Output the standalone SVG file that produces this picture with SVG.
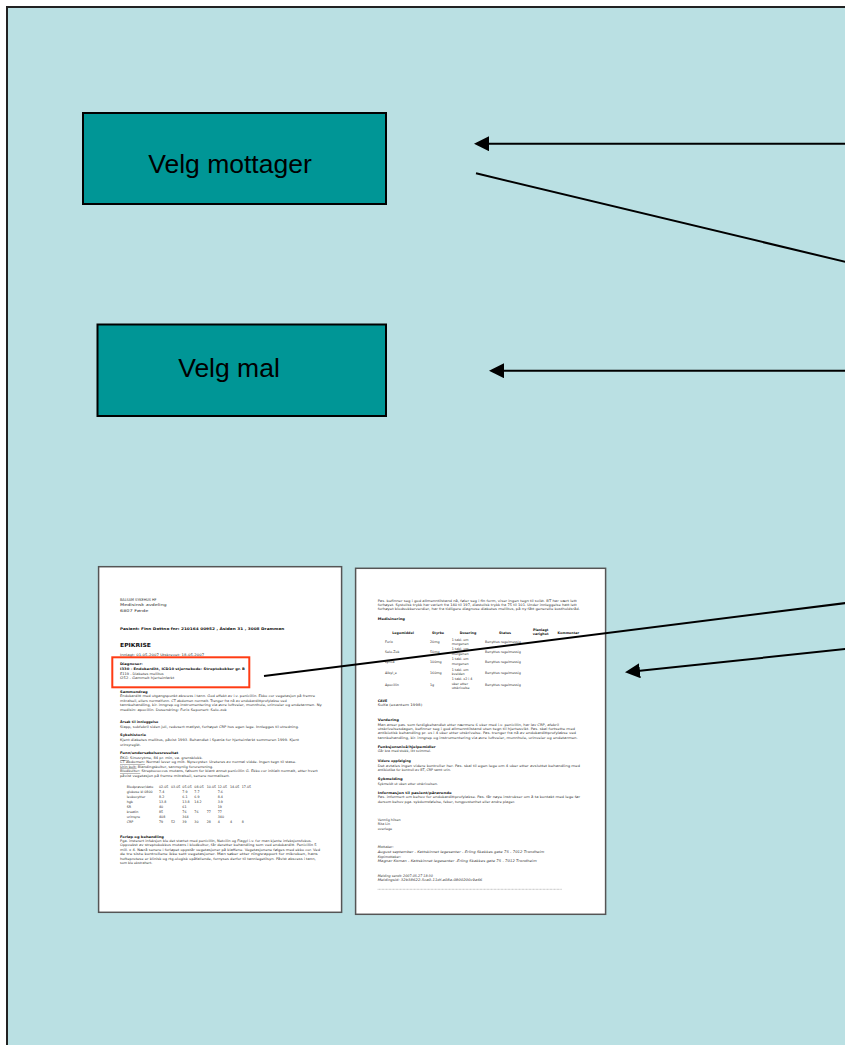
<svg xmlns="http://www.w3.org/2000/svg" width="845" height="1045" viewBox="0 0 845 1045">
<style>
.bg{fill:#BAE0E3;stroke:#222;stroke-width:2}
.box{fill:#009696;stroke:#000;stroke-width:2}
.lbl{font-family:"Liberation Sans",Arial,sans-serif;font-size:26.5px;fill:#000}
.doc{fill:#fff;stroke:#555;stroke-width:1.5}
.t{font-family:"DejaVu Sans",Verdana,sans-serif;font-size:3.3px;fill:#333}
.b{font-weight:bold;fill:#111}
.i{font-style:italic}
.u{text-decoration:underline}
.con{stroke:#000;stroke-width:2;fill:none}
.hl{fill:none;stroke:#FF3C14;stroke-width:2}
</style>
<defs>
<marker id="ah" markerUnits="userSpaceOnUse" markerWidth="16" markerHeight="16" refX="12" refY="7.5" orient="auto">
<path d="M0,0 L15,7.5 L0,15 z" fill="#000"/>
</marker>
</defs>
<rect fill="#fff" x="0" y="0" width="845" height="1045"/>
<rect class="bg" x="7" y="7" width="850" height="1050"/>

<g id="node-velg-mottager">
<rect class="box" x="83" y="113" width="303" height="91"/>
<text class="lbl" x="230" y="172.5" text-anchor="middle">Velg mottager</text>
</g>

<g id="node-velg-mal">
<rect class="box" x="97.5" y="324.5" width="288.5" height="91.5"/>
<text class="lbl" x="229" y="376.5" text-anchor="middle">Velg mal</text>
</g>

<g id="node-epikrise-side1">
<rect class="doc" x="98.6" y="566.7" width="243" height="345.6"/>
<text class="t" x="120" y="600.5" style="font-size:3.8px" textLength="36.5" lengthAdjust="spacingAndGlyphs">BALSAM SYKEHUS HF</text>
<text class="t" x="120" y="606.4" style="font-size:3.8px" textLength="46.7" lengthAdjust="spacingAndGlyphs">Medisinsk avdeling</text>
<text class="t" x="120" y="612.4" style="font-size:3.8px" textLength="28.3" lengthAdjust="spacingAndGlyphs">6807 Førde</text>
<text class="t b" x="120" y="629.7" style="font-size:3.5px" textLength="164.3" lengthAdjust="spacingAndGlyphs">Pasient: Finn Dottno  fnr: 210164 00952  , Åsiden 31 , 3008 Drammen</text>
<text class="t b" x="120" y="647" style="font-size:5.6px" textLength="31" lengthAdjust="spacingAndGlyphs">EPIKRISE</text>
<text class="t" x="120" y="656" textLength="84.3" lengthAdjust="spacingAndGlyphs">Innlagt: 01-05-2007  Utskrevet: 18-05-2007</text>
<text class="t b" x="120" y="665" textLength="22.7" lengthAdjust="spacingAndGlyphs">Diagnoser:</text>
<text class="t b" x="120" y="670" textLength="125" lengthAdjust="spacingAndGlyphs">I330 - Endokarditt, ICD10 stjernekode: Streptokokker gr. B</text>
<text class="t" x="120" y="674.7" textLength="43.7" lengthAdjust="spacingAndGlyphs">E119 - Diabetes mellitus</text>
<text class="t" x="120" y="679.3" textLength="54.3" lengthAdjust="spacingAndGlyphs">I252 - Gammelt hjerteinfarkt</text>
<text class="t b" x="120" y="692.7" textLength="27.7" lengthAdjust="spacingAndGlyphs">Sammendrag</text>
<text class="t" x="120" y="697.3" textLength="195" lengthAdjust="spacingAndGlyphs">Endokarditt med utgangspunkt abscess i tann. God effekt av i.v. penicillin. Ekko cor vegetasjon på fremre</text>
<text class="t" x="120" y="701.8" textLength="166.7" lengthAdjust="spacingAndGlyphs">mitralseil, ellers normalfunn. CT abdomen normalt. Trenger fra nå av endokardittprofylakse ved</text>
<text class="t" x="120" y="706.3" textLength="201.7" lengthAdjust="spacingAndGlyphs">tannbehandling, kir. inngrep og instrumentering via øvre luftveier, munnhule, urinveier og endetarmen. Ny</text>
<text class="t" x="120" y="710.8" textLength="106.7" lengthAdjust="spacingAndGlyphs">medisin: apocillin. Dosendring: Furix  Seponert: Selo-zok</text>
<text class="t b" x="120" y="723">Årsak til innleggelse</text>
<text class="t" x="120" y="727.7" textLength="179" lengthAdjust="spacingAndGlyphs">Slapp, subfebril siden juli, redusert matlyst, forhøyet CRP hos egen lege. Innlegges til utredning.</text>
<text class="t b" x="120" y="736.3" textLength="26" lengthAdjust="spacingAndGlyphs">Sykehistorie</text>
<text class="t" x="120" y="740.7" textLength="179" lengthAdjust="spacingAndGlyphs">Kjent diabetes mellitus, påvist 1993. Behandlet i Spania for hjerteinfarkt sommeren 1999. Kjent</text>
<text class="t" x="120" y="745.5">urinsyregikt.</text>
<text class="t b" x="120" y="754.3" textLength="58.3" lengthAdjust="spacingAndGlyphs">Funn/undersøkelsesresultat</text>
<text class="t" x="120" y="759" textLength="82.7" lengthAdjust="spacingAndGlyphs"><tspan class="u">EKG:</tspan> Sinusrytme, 84 pr. min, va. grensblokk.</text>
<text class="t" x="120" y="763.3" textLength="176.3" lengthAdjust="spacingAndGlyphs"><tspan class="u">CT abdomen:</tspan> Normal lever og milt. Nyrecyster. Ureteres av normal vidde. Ingen tegn til stase.</text>
<text class="t" x="120" y="767.7" textLength="93.3" lengthAdjust="spacingAndGlyphs"><tspan class="u">Urin kult:</tspan> Blandingskultur, sannsynlig forurensning.</text>
<text class="t" x="120" y="772.3" textLength="197.7" lengthAdjust="spacingAndGlyphs"><tspan class="u">Blodkultur:</tspan> Streptococcus mutans, følsom for blant annet penicillin G. Ekko cor initialt normalt, etter hvert</text>
<text class="t" x="120" y="776.7" textLength="110" lengthAdjust="spacingAndGlyphs">påvist vegetasjon på fremre mitralseil, senere normalisert.</text>
<g>
<text class="t" x="126.7" y="787.7">Blodprøver/dato</text>
<text class="t" x="159" y="787.7">02.05</text><text class="t" x="171" y="787.7">03.05</text><text class="t" x="182.3" y="787.7">05.05</text><text class="t" x="194.3" y="787.7">08.05</text><text class="t" x="206.7" y="787.7">10.05</text><text class="t" x="217.7" y="787.7">12.05</text><text class="t" x="230" y="787.7">14.05</text><text class="t" x="241.7" y="787.7">17.05</text>
<text class="t" x="126.7" y="792.7">glukose kl 0800</text>
<text class="t" x="159" y="792.7">7.4</text><text class="t" x="182.3" y="792.7">7.9</text><text class="t" x="194.3" y="792.7">7.7</text><text class="t" x="217.7" y="792.7">7.6</text>
<text class="t" x="126.7" y="797.7">leukocytter</text>
<text class="t" x="159" y="797.7">8.2</text><text class="t" x="182.3" y="797.7">6.1</text><text class="t" x="194.3" y="797.7">6.9</text><text class="t" x="217.7" y="797.7">8.4</text>
<text class="t" x="126.7" y="802.7">hgb</text>
<text class="t" x="159" y="802.7">13.8</text><text class="t" x="182.3" y="802.7">13.8</text><text class="t" x="194.3" y="802.7">14.2</text><text class="t" x="217.7" y="802.7">3.9</text>
<text class="t" x="126.7" y="807.7">SR</text>
<text class="t" x="159" y="807.7">40</text><text class="t" x="182.3" y="807.7">61</text><text class="t" x="217.7" y="807.7">19</text>
<text class="t" x="126.7" y="812.7">kreatin</text>
<text class="t" x="159" y="812.7">85</text><text class="t" x="182.3" y="812.7">76</text><text class="t" x="194.3" y="812.7">76</text><text class="t" x="206.7" y="812.7">77</text><text class="t" x="217.7" y="812.7">77</text>
<text class="t" x="126.7" y="817.7">urinsyre</text>
<text class="t" x="159" y="817.7">408</text><text class="t" x="182.3" y="817.7">364</text><text class="t" x="217.7" y="817.7">340</text>
<text class="t" x="126.7" y="822.7">CRP</text>
<text class="t" x="159" y="822.7">79</text><text class="t" x="171" y="822.7">52</text><text class="t" x="182.3" y="822.7">39</text><text class="t" x="194.3" y="822.7">30</text><text class="t" x="206.7" y="822.7">28</text><text class="t" x="217.7" y="822.7">4</text><text class="t" x="230" y="822.7">4</text><text class="t" x="241.7" y="822.7">8</text>
</g>
<text class="t b" x="120" y="837.7" textLength="44" lengthAdjust="spacingAndGlyphs">Forløp og behandling</text>
<text class="t" x="120" y="841.7" textLength="191.7" lengthAdjust="spacingAndGlyphs">Pga. insterert infeksjon ble det startet med penicillin, Netcilin og Flagyl i.v. for man kjente infeksjonsfokus.</text>
<text class="t" x="120" y="846.2" textLength="196.7" lengthAdjust="spacingAndGlyphs">Oppvekst av streptokokkus mutans i blodkultur, får deretter behandling som ved endokarditt. Penicillin 5</text>
<text class="t" x="120" y="850.7" textLength="200" lengthAdjust="spacingAndGlyphs">mill. x 4. Nærå senere i forløpet oppstår vegetasjoner på klaffene. Vegetasjonene følges med ekko cor. Ved</text>
<text class="t" x="120" y="855.2" textLength="197.7" lengthAdjust="spacingAndGlyphs">de tre siste kontrollene ikke sett vegetasjoner. Man søker etter nīngsrapport for mikroben, hans</text>
<text class="t" x="120" y="859.7" textLength="195.7" lengthAdjust="spacingAndGlyphs">hofteprotese er klinisk og rtg.ologisk upåfallende, fornyses derfor til tannlegetilsyn. Påvist abscess i tann,</text>
<text class="t" x="120" y="864.2">som ble ekstrahert.</text>
<rect class="hl" x="112.3" y="657.3" width="137" height="30"/>
</g>

<g id="node-epikrise-side2">
<rect class="doc" x="355.6" y="568.3" width="250" height="346"/>
<text class="t" x="377.7" y="601.7" textLength="199" lengthAdjust="spacingAndGlyphs">Pas. befinner seg i god allmenntilstand nå, føler seg i fin form, viser ingen tegn til svikt. BT har vært lett</text>
<text class="t" x="377.7" y="606" textLength="199" lengthAdjust="spacingAndGlyphs">forhøyet. Systolisk trykk har variert fra 140 til 197, diastolisk trykk fra 75 til 101. Under innleggelse hatt lett</text>
<text class="t" x="377.7" y="610.3" textLength="202.3" lengthAdjust="spacingAndGlyphs">forhøyet blodsukkerverdier, har fra tidligere diagnose diabetes mellitus, på ny fått generelle kostholdsråd.</text>
<text class="t b" x="377.7" y="620.3" textLength="27.3" lengthAdjust="spacingAndGlyphs">Medisinering</text>
<g text-anchor="middle">
<text class="t b" x="403" y="634">Legemiddel</text>
<text class="t b" x="438" y="634">Styrke</text>
<text class="t b" x="468" y="634">Dosering</text>
<text class="t b" x="505" y="634">Status</text>
<text class="t b" x="540.7" y="630.5">Planlagt</text>
<text class="t b" x="540.7" y="634.8">varighet</text>
<text class="t b" x="568.3" y="633.5">Kommentar</text>
</g>
<text class="t" x="385" y="643.3">Furix</text><text class="t" x="430" y="643.3">20mg</text>
<text class="t" x="451.7" y="641">1 tabl. om</text><text class="t" x="451.7" y="645.3">morgenen</text>
<text class="t" x="485" y="643.3">Benyttes regelmessig</text>
<text class="t" x="385" y="653">Selo-Zok</text><text class="t" x="430" y="653">50mg</text>
<text class="t" x="451.7" y="650.3">1 tabl. om</text><text class="t" x="451.7" y="655">morgenen</text>
<text class="t" x="485" y="653">Benyttes regelmessig</text>
<text class="t" x="385" y="663.3">Lyrica</text><text class="t" x="430" y="663.3">100mg</text>
<text class="t" x="451.7" y="660.3">1 tabl. om</text><text class="t" x="451.7" y="665">morgenen</text>
<text class="t" x="485" y="663.3">Benyttes regelmessig</text>
<text class="t" x="385" y="673.7">Albyl_e</text><text class="t" x="430" y="673.7">160mg</text>
<text class="t" x="451.7" y="670.7">1 tabl. om</text><text class="t" x="451.7" y="675.3">kvelden</text>
<text class="t" x="485" y="673.7">Benyttes regelmessig</text>
<text class="t" x="385" y="685.7">Apocillin</text><text class="t" x="430" y="685.7">1g</text>
<text class="t" x="451.7" y="680">1 tabl. x2 i 4</text><text class="t" x="451.7" y="684.7">uker etter</text><text class="t" x="451.7" y="689.3">utskrivelse</text>
<text class="t" x="485" y="685.7">Benyttes regelmessig</text>
<text class="t b" x="377.7" y="702">CAVE</text>
<text class="t" x="377.7" y="706.3" textLength="44.6" lengthAdjust="spacingAndGlyphs">Sulfa (exantem 1998)</text>
<text class="t b" x="377.7" y="721" textLength="21.3" lengthAdjust="spacingAndGlyphs">Vurdering</text>
<text class="t" x="377.7" y="725.7" textLength="181.3" lengthAdjust="spacingAndGlyphs">Man anser pas. som ferdigbehandlet etter nærmere 6 uker med i.v. penicillin, har lav CRP, afebril</text>
<text class="t" x="377.7" y="730" textLength="197.3" lengthAdjust="spacingAndGlyphs">utskrivelsesdagen, befinner seg i god allmenntilstand uten tegn til hjertesvikt. Pas. skal fortsette med</text>
<text class="t" x="377.7" y="734.3" textLength="198.3" lengthAdjust="spacingAndGlyphs">antibiotisk behandling pr. os i 4 uker etter utskrivelse. Pas. trenger fra nå av endokardittprofylakse ved</text>
<text class="t" x="377.7" y="738.7" textLength="200" lengthAdjust="spacingAndGlyphs">tannbehandling, kir. inngrep og instrumentering via øvre luftveier, munnhule, urinveier og endetarmen.</text>
<text class="t b" x="377.7" y="747.7" textLength="58" lengthAdjust="spacingAndGlyphs">Funksjonsnivå/hjelpemidler</text>
<text class="t" x="377.7" y="752.3">Går bra med stokk, litt svimmel.</text>
<text class="t b" x="377.7" y="762">Videre oppfølging</text>
<text class="t" x="377.7" y="766.7" textLength="202.3" lengthAdjust="spacingAndGlyphs">Det avtales ingen videre kontroller her. Pas. skal til egen lege om 4 uker etter avsluttet behandling med</text>
<text class="t" x="377.7" y="771">antibiotika for kontroll av BT, CRP samt urin.</text>
<text class="t b" x="377.7" y="780.3" textLength="25" lengthAdjust="spacingAndGlyphs">Sykmelding</text>
<text class="t" x="377.7" y="784.7">Sykmeldt ut uken etter utskrivelsen.</text>
<text class="t b" x="377.7" y="793.7" textLength="74" lengthAdjust="spacingAndGlyphs">Informasjon til pasient/pårørende</text>
<text class="t" x="377.7" y="798" textLength="202.3" lengthAdjust="spacingAndGlyphs">Pas. informert om behov for endokardittprofylakse. Pas. får nøye instrukser om å ta kontakt med lege før</text>
<text class="t" x="377.7" y="802.7" textLength="137.3" lengthAdjust="spacingAndGlyphs">dersom behov pga. sykdomsfølelse, feber, tungpustenhet eller andre plager.</text>
<text class="t" x="377.7" y="821">Vennlig hilsen</text>
<text class="t" x="377.7" y="825.3">Rita Lin</text>
<text class="t" x="377.7" y="829.7">overlege</text>
<text class="t i" x="377.7" y="848.3">Mottaker:</text>
<text class="t i" x="377.7" y="853" textLength="166.6" lengthAdjust="spacingAndGlyphs">August september - Kattskinnet legesenter - Erling Skakkes gate 75 - 7012 Trondheim</text>
<text class="t i" x="377.7" y="857.7">Kopimottaker:</text>
<text class="t i" x="377.7" y="862.3" textLength="159" lengthAdjust="spacingAndGlyphs">Magnar Koman - Kattskinnet legesenter -Erling Skakkes gate 75 - 7012 Trondheim</text>
<text class="t i" x="377.7" y="876.7">Melding sendt: 2007-05-27 18:30</text>
<text class="t i" x="377.7" y="881" textLength="104.6" lengthAdjust="spacingAndGlyphs">Meldingsid: 32b38622-5ca0-11df-a08a-0800200c9a66</text>
<line x1="377.7" y1="889.3" x2="561.7" y2="889.3" stroke="#888" stroke-width="0.6" stroke-dasharray="0.8,0.6"/>
</g>

<g id="connectors">
<line class="con" x1="846" y1="143.7" x2="477" y2="143.7" marker-end="url(#ah)"/>
<line class="con" x1="476" y1="173.3" x2="846" y2="262"/>
<line class="con" x1="846" y1="370.7" x2="492" y2="370.7" marker-end="url(#ah)"/>
<line class="con" x1="264" y1="676" x2="846" y2="603"/>
<line class="con" x1="846" y1="649" x2="628" y2="672" marker-end="url(#ah)"/>
</g>
</svg>
